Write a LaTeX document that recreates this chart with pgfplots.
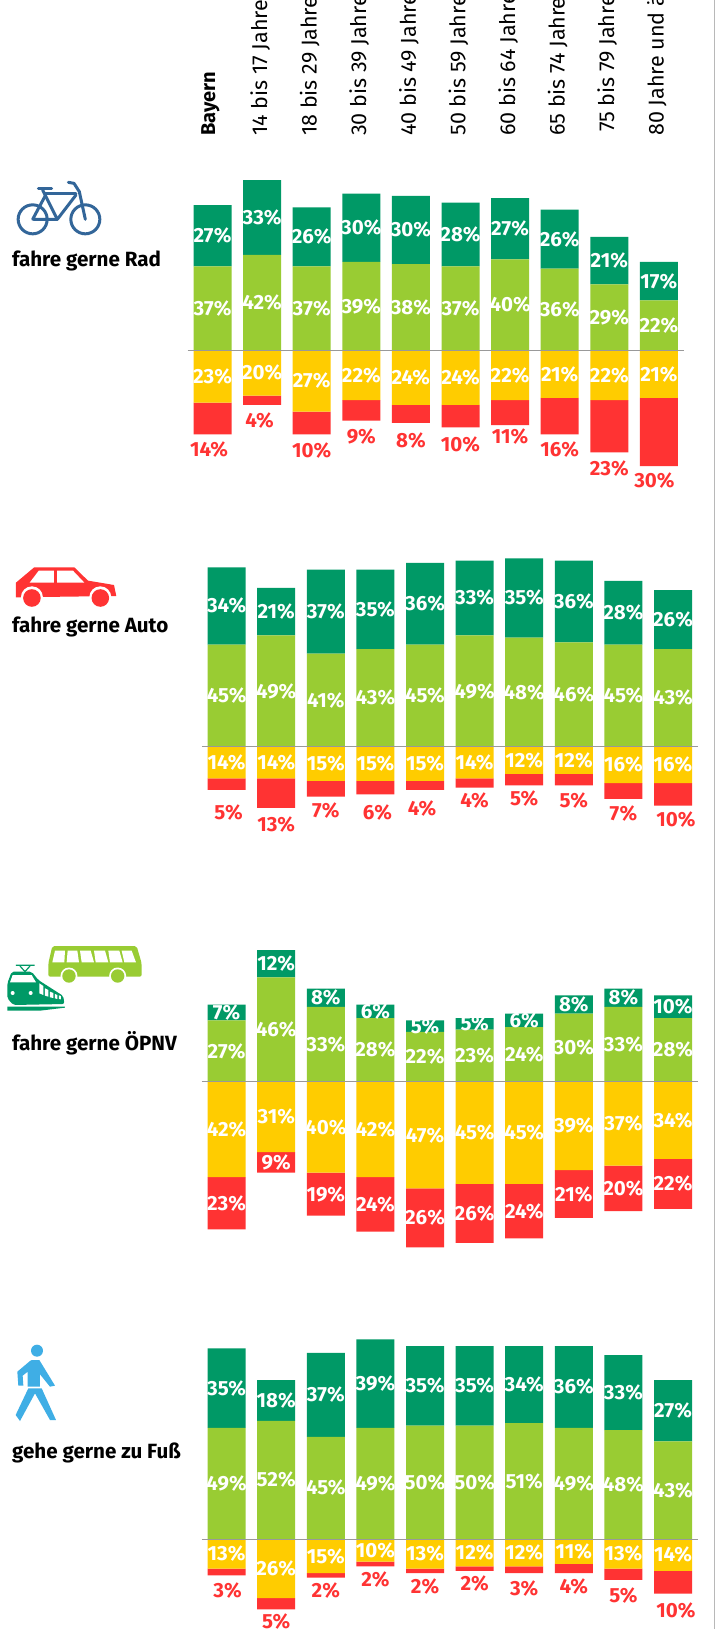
\documentclass[border=0pt]{standalone}
\usepackage{fontspec}
\setmainfont{Fira Sans}
\usepackage{pgfplots}
\usepackage{pgfplotstable}
\pgfplotsset{compat=1.18}

\definecolor{dg}{HTML}{009966}
\definecolor{lg}{HTML}{99CC33}
\definecolor{ye}{HTML}{FFCC00}
\definecolor{re}{HTML}{FF3333}
\definecolor{bike}{HTML}{336699}
\definecolor{walk}{HTML}{3FAEE5}
\definecolor{rule}{HTML}{999999}

% x dark-green light-green yellow red
\pgfplotstableread{
x dg lg ye re
0 27 37 23 14
1 33 42 20 4
2 26 37 27 10
3 30 39 22 9
4 30 38 24 8
5 28 37 24 10
6 27 40 22 11
7 26 36 21 16
8 21 29 22 23
9 17 22 21 30
}\rad
\pgfplotstableread{
x dg lg ye re
0 34 45 14 5
1 21 49 14 13
2 37 41 15 7
3 35 43 15 6
4 36 45 15 4
5 33 49 14 4
6 35 48 12 5
7 36 46 12 5
8 28 45 16 7
9 26 43 16 10
}\auto
\pgfplotstableread{
x dg lg ye re
0 7 27 42 23
1 12 46 31 9
2 8 33 40 19
3 6 28 42 24
4 5 22 47 26
5 5 23 45 26
6 6 24 45 24
7 8 30 39 21
8 8 33 37 20
9 10 28 34 22
}\oepnv
\pgfplotstableread{
x dg lg ye re
0 35 49 13 3
1 18 52 26 5
2 37 45 15 2
3 39 49 10 2
4 35 50 13 2
5 35 50 12 2
6 34 51 12 3
7 36 49 11 4
8 33 48 13 5
9 27 43 14 10
}\fuss

% red labels: x, y in axis units, value
\pgfplotstableread{
x y lab
-0.07 -43.5 14
0.95 -31.1 4
2 -44.1 10
3 -37.9 9
4 -39.9 8
5 -41.7 10
6 -38.2 11
7 -43.5 16
8 -52.3 23
8.91 -57.3 30
}\radlab
\pgfplotstableread{
x y lab
0.04 -28.9 5
1 -34.2 13
2 -28.3 7
3.04 -28.9 6
3.94 -27.2 4
5 -23.9 4
6 -22.8 5
7 -23.9 5
8 -29.5 7
9.06 -31.9 10
}\autolab
\pgfplotstableread{
x y lab
0 -53.5 23
1 -35.5 9
2 -49.5 19
3 -54 24
4 -60 26
5 -58 26
6 -57 24
7 -49.5 21
8 -47 20
9 -45 22
}\oepnvlab
\pgfplotstableread{
x y lab
0.02 -22.6 3
1 -36.2 5
2 -22.6 2
3 -17.9 2
4 -20.9 2
5 -19.4 2
6 -21.7 3
7 -20.9 4
8 -24.7 5
9.06 -31.4 10
}\fusslab

\newcommand\pctfont{\fontsize{20.5}{21}\selectfont\bfseries}
\pgfplotsset{
  base/.style={x=49.6pt,y=2.27pt,xmin=-0.5,xmax=9.5,clip=false,
    axis y line=none,ytick=\empty,major tick length=0pt},
  stackbars/.style={ybar stacked,bar width=38pt,bar shift=0pt},
  txt/.style={only marks,mark=none,point meta=explicit symbolic,
    nodes near coords={\pgfplotspointmeta\%},nodes near coords align=center,
    every node near coord/.append style={#1,font=\pctfont,inner sep=0pt}},
}

% #1 left edge, #2 zero line, #3 data, #4 labels, #5 label colour, #6 ymax, #7 extra upper options
\newcommand\chart[7]{
  \begin{axis}[base,stackbars,at={(#1pt,-#2pt)},anchor=south west,ymin=0,ymax=#6,
    axis x line=top,axis line style={draw=none},xtick=\empty,#7]
    \addplot[fill=lg,draw=none] table[x=x,y=lg] {#3};
    \addplot[fill=dg,draw=none] table[x=x,y=dg] {#3};
  \end{axis}
  \begin{axis}[base,stackbars,at={(#1pt,-#2pt)},anchor=north west,ymin=-80,ymax=0,
    axis x line=top,axis line style={rule,line width=0.9pt,-},xtick=\empty,axis on top]
    \addplot[fill=ye,draw=none] table[x=x,y expr=-\thisrow{ye}] {#3};
    \addplot[fill=re,draw=none] table[x=x,y expr=-\thisrow{re}] {#3};
  \end{axis}
  \begin{axis}[base,hide axis,at={(#1pt,-#2pt-181.6pt)},anchor=south west,ymin=-80,ymax=100]
    \addplot[txt=white] table[x=x,y expr=\thisrow{lg}/2,meta=lg] {#3};
    \addplot[txt=white] table[x=x,y expr=\thisrow{lg}+\thisrow{dg}/2,meta=dg] {#3};
    \addplot[txt=white] table[x=x,y expr=-\thisrow{ye}/2,meta=ye] {#3};
    \addplot[txt=#5] table[x=x,y=y,meta=lab] {#4};
  \end{axis}
}

\begin{document}
\begin{tikzpicture}
\path[use as bounding box,clip] (0,0) rectangle (715pt,-1629pt);
\fill[white] (0,0) rectangle (715pt,-1629pt);
\draw[rule!70,line width=1.2pt] (714.2pt,0) -- (714.2pt,-1629pt);

\chart{187.7}{350.3}{\rad}{\radlab}{re}{95.3}{
  xtick={0,...,9},
  xticklabels={{\fontsize{20}{21}\selectfont\textbf{Bayern}},14 bis 17 Jahre,18 bis 29 Jahre,30 bis 39 Jahre,40 bis 49 Jahre,50 bis 59 Jahre,60 bis 64 Jahre,65 bis 74 Jahre,\hspace*{4pt}75 bis 79 Jahre,80 Jahre und älter},
  xticklabel style={rotate=90,anchor=west,inner sep=0pt,xshift=-2pt,yshift=2pt,font=\fontsize{21.5}{23}\selectfont,black}}
\chart{201.8}{746.7}{\auto}{\autolab}{re}{100}{}
\chart{201.8}{1081.7}{\oepnv}{\oepnvlab}{white}{100}{}
\chart{201.8}{1539}{\fuss}{\fusslab}{re}{100}{}

% row captions
\begin{scope}[every node/.style={anchor=west,inner sep=0pt,font=\fontsize{20.6}{22}\selectfont\bfseries}]
\node at (12pt,-261pt) {fahre gerne Rad};
\node at (12pt,-627pt) {fahre gerne Auto};
\node at (12pt,-1043pt) {fahre gerne ÖPNV};
\node at (12pt,-1453pt) {gehe gerne zu Fuß};
\end{scope}

% icons, coordinates as read from the zoomed crops (3 units = 1 px)
\begin{scope}[x=0.3333pt,y=-0.3333pt]
  % bike
  \begin{scope}[yshift=-175pt,bike,line width=3pt,line cap=round,line join=round]
    \draw (98,133) circle [radius=14.5pt];
    \draw (256,133) circle [radius=14.5pt];
    \draw (98,133) -- (137,60) (100,133) -- (172,133);
    \draw (128,45) -- (172,133) -- (228,60);
    \draw (135,57) -- (228,57);
    \draw (115,40) -- (155,40);
    \draw (205,22) -- (222,25) -- (238,50) -- (256,133);
  \end{scope}
  % car
  \begin{scope}[yshift=-540pt,x=0.456pt]
    \fill[re] (35,128) -- (75,82) -- (163,82) -- (193,122) -- (250,135) -- (255,168) -- (35,172) -- cycle;
    \fill[white] (65,128) -- (85,92) -- (118,92) -- (118,128) -- cycle;
    \fill[white] (125,92) -- (160,92) -- (185,128) -- (125,128) -- cycle;
    \foreach \wx in {70,220} {
      \fill[white] (\wx,172) circle [radius=11pt];
      \fill[re] (\wx,174) circle [radius=8.8pt];
    }
  \end{scope}
  % bus
  \begin{scope}[yshift=-930pt]
    \fill[lg,rounded corners=2pt] (157,48) -- (410,48) -- (425,100) -- (425,140) -- (145,140) -- (145,100) -- cycle;
    \fill[white] (165,62) -- (195,62) -- (193,97) -- (157,97) -- cycle;
    \fill[white] (203,62) -- (232,62) -- (237,97) -- (200,97) -- cycle;
    \fill[white] (240,62) -- (272,62) -- (282,97) -- (245,97) -- cycle;
    \fill[white] (282,62) -- (315,62) -- (325,97) -- (287,97) -- cycle;
    \fill[white] (325,62) -- (358,62) -- (368,97) -- (330,97) -- cycle;
    \fill[white] (365,62) -- (395,62) -- (408,97) -- (373,97) -- cycle;
    \foreach \wx in {207,353} {
      \fill[white] (\wx,138) circle [radius=8.5pt];
      \fill[lg] (\wx,138) circle [radius=6.7pt];
    }
    % train
    \fill[dg,rounded corners=2pt] (22,205) -- (22,160) -- (35,125) -- (95,125) -- (115,150) -- (190,198) -- (193,222) -- (40,225) -- cycle;
    \fill[dg] (22,230) -- (195,230) -- (195,233) -- (120,242) -- (22,242) -- cycle;
    \draw[dg,line width=1.2pt] (48,106) -- (104,106) (60,108) -- (75,125) -- (90,108);
    \fill[white] (38,135) -- (95,135) -- (108,157) -- (30,157) -- cycle;
    \fill[white] (38,189) circle [radius=2pt] (92,189) circle [radius=2pt];
    \fill[white] (118,160) -- (130,168) -- (130,195) -- (118,190) -- cycle;
    \fill[white] (135,175) -- (145,180) -- (145,200) -- (135,197) -- cycle;
    \fill[white] (150,185) -- (160,189) -- (160,204) -- (150,202) -- cycle;
    \fill[white] (165,192) -- (172,195) -- (172,207) -- (165,205) -- cycle;
    \fill[white] (177,196) -- (183,198) -- (183,208) -- (177,207) -- cycle;
  \end{scope}
  % walker
  \begin{scope}[yshift=-1335pt,walk]
    \fill (111,47) circle [radius=6pt];
    \fill (95,75) -- (118,75) -- (165,152) -- (150,155) -- (120,118) -- (120,155) -- (83,155) -- (83,110) -- (68,122) -- (70,152) -- (55,152) -- (52,110) -- (90,78) -- cycle;
    \fill (85,160) -- (125,160) -- (168,255) -- (150,255) -- (105,175) -- (60,258) -- (47,240) -- cycle;
  \end{scope}
\end{scope}
\end{tikzpicture}
\end{document}
